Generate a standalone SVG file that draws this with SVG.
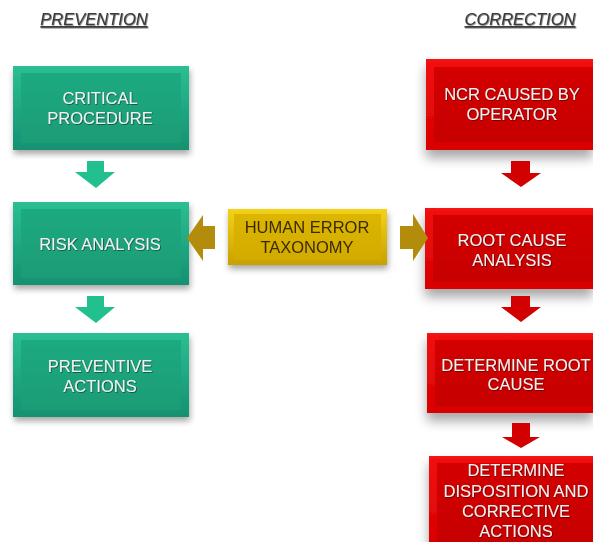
<svg xmlns="http://www.w3.org/2000/svg" width="593" height="542" viewBox="0 0 593 542">
<defs>
<linearGradient id="gG" x1="0" y1="0" x2="0" y2="1"><stop offset="0" stop-color="#2bbf93"/><stop offset="1" stop-color="#149170"/></linearGradient>
<linearGradient id="gGi" x1="0" y1="0" x2="0" y2="1"><stop offset="0" stop-color="#1faa80"/><stop offset="1" stop-color="#1a9c76"/></linearGradient>
<linearGradient id="gR" x1="0" y1="0" x2="0" y2="1"><stop offset="0" stop-color="#f21212"/><stop offset="1" stop-color="#d80000"/></linearGradient>
<linearGradient id="gRi" x1="0" y1="0" x2="0" y2="1"><stop offset="0" stop-color="#d40000"/><stop offset="1" stop-color="#c60000"/></linearGradient>
<linearGradient id="gY" x1="0" y1="0" x2="0" y2="1"><stop offset="0" stop-color="#f3d21a"/><stop offset="1" stop-color="#c9a000"/></linearGradient>
<linearGradient id="gYi" x1="0" y1="0" x2="0" y2="1"><stop offset="0" stop-color="#dcb600"/><stop offset="1" stop-color="#d2ab00"/></linearGradient>
<filter id="sh" x="-10%" y="-10%" width="130%" height="150%"><feDropShadow dx="1" dy="4" stdDeviation="3" flood-color="#000" flood-opacity="0.35"/></filter>
<filter id="shR" x="-10%" y="-10%" width="130%" height="160%"><feDropShadow dx="0" dy="8" stdDeviation="6" flood-color="#000" flood-opacity="0.35"/></filter>
<filter id="ts" x="-5%" y="-20%" width="110%" height="150%"><feDropShadow dx="0.7" dy="0.7" stdDeviation="0.4" flood-color="#000" flood-opacity="0.6"/></filter>
</defs>
<style>
text{font-family:"Liberation Sans",Arial,sans-serif;font-size:16.5px;text-anchor:middle}
.w{fill:#f2f2f2;filter:url(#ts)}
.d{fill:#3b2b00}
.h{fill:#3a3a3a;font-style:italic;text-decoration:underline;filter:url(#ts)}
.ga{fill:#22c08e}
.ra{fill:#d20000}
.ya{fill:#b38c0c}
</style>
<text class="h" x="94" y="25">PREVENTION</text>
<text class="h" x="520" y="25">CORRECTION</text>

<g id="critical-procedure" filter="url(#sh)">
<rect x="13" y="66" width="176" height="84" fill="url(#gG)"/>
<rect x="21" y="73" width="160" height="70" fill="url(#gGi)"/>
<text class="w" x="100" y="104">CRITICAL</text><text class="w" x="100" y="124">PROCEDURE</text>
</g>
<g id="risk-analysis" filter="url(#sh)">
<rect x="13" y="202" width="176" height="83" fill="url(#gG)"/>
<rect x="21" y="209" width="160" height="69" fill="url(#gGi)"/>
<text class="w" x="100" y="250">RISK ANALYSIS</text>
</g>
<g id="preventive-actions" filter="url(#sh)">
<rect x="13" y="333" width="176" height="84" fill="url(#gG)"/>
<rect x="21" y="340" width="160" height="70" fill="url(#gGi)"/>
<text class="w" x="100" y="372">PREVENTIVE</text><text class="w" x="100" y="392">ACTIONS</text>
</g>

<g id="human-error-taxonomy" filter="url(#sh)">
<rect x="228" y="209" width="159" height="56" fill="url(#gY)"/>
<rect x="234" y="214" width="147" height="46" fill="url(#gYi)"/>
<text class="d" x="307" y="233">HUMAN ERROR</text><text class="d" x="307" y="253">TAXONOMY</text>
</g>

<g id="ncr" filter="url(#shR)">
<rect x="426" y="59" width="167" height="91" fill="url(#gR)"/>
<rect x="434" y="67" width="159" height="75" fill="url(#gRi)"/>
<text class="w" x="512" y="100">NCR CAUSED BY</text><text class="w" x="512" y="120">OPERATOR</text>
</g>
<g id="root-cause-analysis" filter="url(#shR)">
<rect x="425" y="208" width="168" height="81" fill="url(#gR)"/>
<rect x="433" y="215" width="160" height="67" fill="url(#gRi)"/>
<text class="w" x="512" y="246">ROOT CAUSE</text><text class="w" x="512" y="266">ANALYSIS</text>
</g>
<g id="determine-root-cause" filter="url(#shR)">
<rect x="427" y="333" width="166" height="80" fill="url(#gR)"/>
<rect x="435" y="340" width="158" height="66" fill="url(#gRi)"/>
<text class="w" x="516" y="371">DETERMINE ROOT</text><text class="w" x="516" y="390">CAUSE</text>
</g>
<g id="determine-disposition" filter="url(#shR)">
<rect x="429" y="456" width="164" height="90" fill="url(#gR)"/>
<rect x="437" y="463" width="156" height="80" fill="url(#gRi)"/>
<text class="w" x="516" y="476">DETERMINE</text><text class="w" x="516" y="497">DISPOSITION AND</text><text class="w" x="516" y="517">CORRECTIVE</text><text class="w" x="516" y="537">ACTIONS</text>
</g>

<g id="connectors">
<polygon class="ga" points="87,161 104,161 104,172 115,172 96,188 75,172 87,172"/>
<polygon class="ga" points="87,296 104,296 104,307 115,307 96,323 75,307 87,307"/>
<polygon class="ra" points="511,161 530,161 530,173 541,173 521,187 501,173 511,173"/>
<polygon class="ra" points="511,296 530,296 530,307 541,307 521,322 501,307 511,307"/>
<polygon class="ra" points="512,423 530,423 530,437 540,437 521,448 502,437 512,437"/>
<polygon class="ya" points="215,226 215,249 203,249 203,261 187,238 203,215 203,226"/>
<polygon class="ya" points="400,226 413,226 413,214 428,238 413,261 413,249 400,249"/>
</g>
</svg>
